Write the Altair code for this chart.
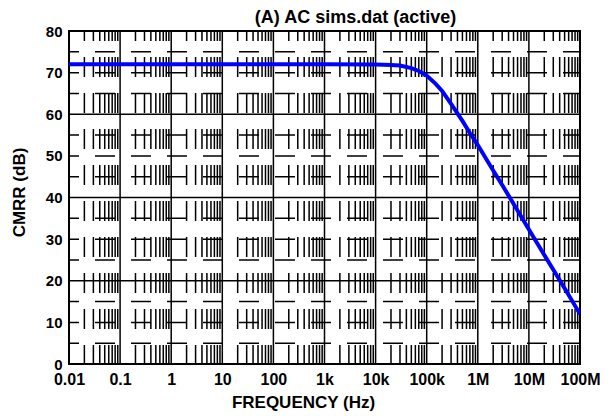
import altair as alt
import pandas as pd

# ---- data ----
freq_hz = [0.01, 1, 100, 1000, 10000, 20000, 30000, 50000, 70000, 100000,
           150000, 200000, 300000, 500000, 700000, 1e6, 2e6, 3e6, 5e6,
           1e7, 2e7, 5e7, 1e8]
cmrr_db = [72.0, 72.0, 72.0, 72.0, 71.95, 71.85, 71.7, 71.1, 70.4, 69.3,
           67.3, 65.6, 62.5, 58.4, 55.5, 52.6, 46.5, 43.0, 38.5,
           32.3, 26.2, 18.2, 12.0]

x_tick_values = [0.01, 0.1, 1, 10, 100, 1e3, 1e4, 1e5, 1e6, 1e7, 1e8]
x_tick_labels = ["0.01", "0.1", "1", "10", "100", "1k", "10k", "100k", "1M", "10M", "100M"]
y_tick_values = [0, 10, 20, 30, 40, 50, 60, 70, 80]
y_major_grid = [20, 40, 60]
y_minor_grid = [5, 10, 15, 25, 30, 35, 45, 50, 55, 65, 70, 75]
minor_multipliers = [2, 3, 4, 5, 6, 7, 8, 9]

W, H = 511, 333
xdom = [0.01, 1e8]
ydom = [0, 80]

curve = pd.DataFrame({"f": freq_hz, "db": cmrr_db})
vmajor = pd.DataFrame({"f": x_tick_values[1:-1]})
vminor = pd.DataFrame({"f": [m * d for d in x_tick_values[:-1] for m in minor_multipliers]})
hmajor = pd.DataFrame({"db": y_major_grid})
hminor = pd.DataFrame({"db": y_minor_grid})

xs = alt.Scale(type="log", domain=xdom, nice=False)
ys = alt.Scale(domain=ydom, nice=False, zero=False)

label_expr = "[" + ",".join("'%s'" % s for s in x_tick_labels) + "][round(log(datum.value)/LN10)+2]"

font = "Liberation Sans"

xaxis = alt.Axis(values=x_tick_values, labelExpr=label_expr, grid=False, ticks=False,
                 domain=False, labelFont=font, labelFontSize=16, labelFontWeight="bold",
                 labelColor="black", labelPadding=7, labelFlush=False,
                 title="FREQUENCY (Hz)", titleFont=font, titleFontSize=17,
                 titleFontWeight="bold", titleColor="black", titlePadding=7,
                 titleX=234)
yaxis = alt.Axis(values=y_tick_values, grid=False, ticks=False, domain=False,
                 labelFont=font, labelFontSize=15, labelFontWeight="bold",
                 labelColor="black", labelPadding=7,
                 title="CMRR (dB)", titleFont=font, titleFontSize=17,
                 titleFontWeight="bold", titleColor="black", titlePadding=17,
                 titleY=161)

X = alt.X("f:Q", scale=xs, axis=xaxis)
Y = alt.Y("db:Q", scale=ys, axis=yaxis)

vmin = alt.Chart(vminor).mark_rule(color="black", strokeWidth=1.5, strokeDash=[20, 16], strokeDashOffset=10).encode(
    x=X, y=alt.value(0), y2=alt.value(H))
hmin = alt.Chart(hminor).mark_rule(color="black", strokeWidth=1.5, strokeDash=[20, 16], strokeDashOffset=10).encode(
    y=Y, x=alt.value(0), x2=alt.value(W))
vmaj = alt.Chart(vmajor).mark_rule(color="black", strokeWidth=1.5).encode(
    x=X, y=alt.value(0), y2=alt.value(H))
hmaj = alt.Chart(hmajor).mark_rule(color="black", strokeWidth=1.5).encode(
    y=Y, x=alt.value(0), x2=alt.value(W))

line = alt.Chart(curve).mark_line(color="#0000ff", strokeWidth=4, clip=True).encode(x=X, y=Y)

chart = alt.layer(vmin, hmin, vmaj, hmaj, line).properties(
    width=W, height=H,
    title=alt.TitleParams("(A) AC sims.dat (active)", font=font, fontSize=18, fontWeight="bold",
                          color="black", anchor="middle", dx=31, offset=-3, frame="group"),
    padding={"left": 61, "top": 23, "right": 25, "bottom": 50},
    autosize=alt.AutoSizeParams(type="none"),
).configure(background="white").configure_view(stroke="black", strokeWidth=2)

chart.save("out.html", embed_options={"renderer": "svg", "actions": False})
